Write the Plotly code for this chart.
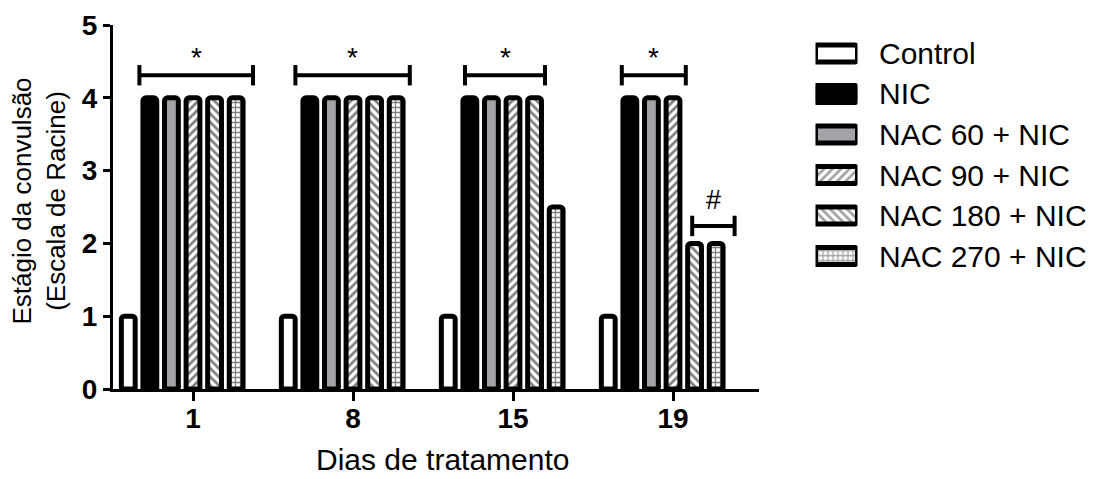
import plotly.graph_objects as go

# ---------------- data ----------------
days = ["1", "8", "15", "19"]
series_names = ["Control", "NIC", "NAC 60 + NIC", "NAC 90 + NIC", "NAC 180 + NIC", "NAC 270 + NIC"]
control = [1, 1, 1, 1]
nic = [4, 4, 4, 4]
nac60 = [4, 4, 4, 4]
nac90 = [4, 4, 4, 4]
nac180 = [4, 4, 4, 2]
nac270 = [4, 4, 2.5, 2]
series_values = [control, nic, nac60, nac90, nac180, nac270]

# significance brackets: group index, left offset, right offset, label
sig_group = [0, 1, 2, 3, 3]
sig_left = [-0.335, -0.36, -0.30, -0.32, 0.12]
sig_right = [0.375, 0.355, 0.20, 0.08, 0.385]
sig_level = [4.31, 4.31, 4.31, 4.31, 2.24]
sig_label = ["*", "*", "*", "*", "#"]

# ---------------- style ----------------
fills = ["white", "black", "#a3a3aa", "white", "white", "white"]
patterns = ["", "", "", "/", "\\", "+"]
pat_size = [8, 8, 8, 6, 6, 5]
pat_solid = [0.3, 0.3, 0.3, 0.45, 0.45, 0.45]
FONT = "Arial, Liberation Sans, sans-serif"
W, H = 1096, 479
L, R, T, B = 113, 10, 18, 90
PW, PH = W - L - R, H - T - B


def px_x(p):
    return (p - L) / PW


def px_y(p):
    return (H - B - p) / PH


fig = go.Figure()
for name, vals, fc, pat, ps, sol in zip(series_names, series_values, fills, patterns, pat_size, pat_solid):
    fig.add_trace(go.Bar(
        x=days, y=vals, name=name, showlegend=False,
        marker=dict(color=fc, line=dict(color="black", width=5), cornerradius=3,
                    pattern=dict(shape=pat, fgcolor="black", bgcolor=fc, size=ps,
                                 solidity=sol, fillmode="overlay")),
    ))
# empty seventh slot (as in the original layout)
fig.add_trace(go.Bar(x=days, y=[0, 0, 0, 0], showlegend=False, hoverinfo="skip",
                     marker=dict(color="rgba(0,0,0,0)", line=dict(width=0))))

# legend swatches drawn as bars on an auxiliary axis
fig.add_trace(go.Bar(
    x=[1] * len(series_names), y=list(range(len(series_names))), orientation="h",
    xaxis="x2", yaxis="y2", width=0.42, showlegend=False, hoverinfo="skip",
    marker=dict(color=fills, line=dict(color="black", width=5), cornerradius=3,
                pattern=dict(shape=patterns, fgcolor="black", bgcolor=fills, size=pat_size,
                             solidity=pat_solid, fillmode="overlay")),
))

shapes = []
annotations = []
for g, x0, x1, yl, lab in zip(sig_group, sig_left, sig_right, sig_level, sig_label):
    shapes.append(dict(type="line", xref="x", yref="y", x0=g + x0, x1=g + x1, y0=yl, y1=yl,
                       line=dict(color="black", width=4)))
    for xe in (g + x0, g + x1):
        shapes.append(dict(type="line", xref="x", yref="y", x0=xe, x1=xe, y0=yl - 0.14, y1=yl + 0.14,
                           line=dict(color="black", width=4)))
    is_star = lab == "*"
    annotations.append(dict(x=g + (x0 + x1) / 2, y=yl + (0.0 if is_star else 0.12), xref="x", yref="y",
                            text=lab, showarrow=False, yanchor="bottom",
                            font=dict(family=FONT, size=28 if is_star else 27, color="black")))

for i, name in enumerate(series_names):
    annotations.append(dict(x=px_x(877), y=i, xref="paper", yref="y2", text=name, showarrow=False,
                            xanchor="left", yanchor="middle",
                            font=dict(family=FONT, size=30, color="black")))

annotations.append(dict(x=px_x(39), y=px_y(198), xref="paper", yref="paper", textangle=-90,
                        text="Estágio da convulsão<br>(Escala de Racine)", showarrow=False,
                        xanchor="center", yanchor="middle",
                        font=dict(family=FONT, size=26, color="black")))
annotations.append(dict(x=px_x(442), y=px_y(461), xref="paper", yref="paper",
                        text="Dias de tratamento", showarrow=False,
                        xanchor="center", yanchor="middle",
                        font=dict(family=FONT, size=30, color="black")))

fig.update_layout(
    width=W, height=H,
    margin=dict(l=L, r=R, t=T, b=B, pad=0),
    paper_bgcolor="white", plot_bgcolor="white",
    barmode="group", bargap=0.056, bargroupgap=0.36,
    showlegend=False,
    xaxis=dict(domain=[0, 646 / PW], range=[-0.5, 3.5375], type="category",
               showline=True, linecolor="black", linewidth=3, ticks="outside", ticklen=9,
               tickwidth=3, tickcolor="black", showgrid=False, zeroline=False,
               ticklabelstandoff=-7,
               tickfont=dict(family=FONT, size=28, color="black", weight="bold")),
    yaxis=dict(range=[0, 5], tickvals=[0, 1, 2, 3, 4, 5], showline=True, linecolor="black",
               linewidth=3, ticks="outside", ticklen=7, tickwidth=3, tickcolor="black",
               showgrid=False, zeroline=False,
               tickfont=dict(family=FONT, size=28, color="black", weight="bold")),
    xaxis2=dict(domain=[px_x(815.5), px_x(857.5)], range=[0, 1], anchor="y2", visible=False),
    yaxis2=dict(domain=[px_y(274.15), px_y(26.35)], range=[5.5, -0.5], anchor="x2", visible=False),
    shapes=shapes, annotations=annotations,
)

fig.write_html("out.html", config={"displayModeBar": False},
               post_script="document.body.style.margin='0';document.body.style.overflow='hidden';")
